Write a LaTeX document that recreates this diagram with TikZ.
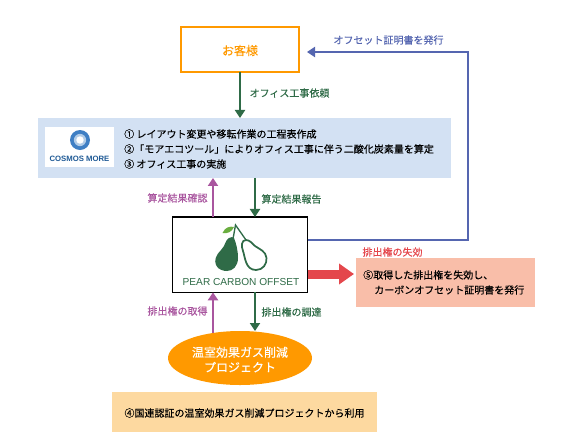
\documentclass[tikz,border=0pt]{standalone}
\usepackage{fontspec}
\setmainfont{Noto Sans CJK JP}[FakeBold=0.25]
\newfontfamily\logofont{Liberation Sans}
\usetikzlibrary{arrows.meta,positioning,shapes.geometric}
\definecolor{custorange}{HTML}{FF9900}
\definecolor{flowgreen}{HTML}{2F6B47}
\definecolor{flowpurple}{HTML}{A9569F}
\definecolor{flowblue}{HTML}{5566B0}
\definecolor{flowred}{HTML}{E4474C}
\definecolor{panelblue}{HTML}{D3E1F3}
\definecolor{panelsalmon}{HTML}{F9BEA9}
\definecolor{panelcream}{HTML}{FDD9A0}
\definecolor{logoblue}{HTML}{1F5A96}
\definecolor{ringblue}{HTML}{3F7FC4}
\definecolor{leafgreen}{HTML}{6AAE3F}
\tikzset{
  smalltext/.style={font=\fontsize{7.5}{11.25}\selectfont, inner sep=0pt},
  bigtext/.style={font=\fontsize{9}{11.25}\selectfont, inner sep=0pt, align=center},
  panel/.style={inner sep=0pt, outer sep=0pt},
  steplabel/.style={smalltext, text=flowgreen},
  checklabel/.style={smalltext, text=flowpurple},
  greenarrow/.style={-{Triangle[length=6pt,width=7.5pt]}, flowgreen, line width=1.5pt},
  purplearrow/.style={-{Triangle[length=6pt,width=7.5pt]}, flowpurple, line width=1.5pt},
  bluearrow/.style={-{Triangle[length=6pt,width=7.5pt]}, flowblue, line width=1.5pt},
  redarrow/.style={-{Triangle[length=11.25pt,width=15pt]}, flowred, line width=6.75pt}
}

\begin{document}
\begin{tikzpicture}[x=0.75pt,y=-0.75pt]
\useasboundingbox (0,0) rectangle (561,444);
\node[panel, draw=custorange, line width=1.5pt, minimum width=88.5pt, minimum height=34pt] (customer) at (240,49.5) {};
\node[bigtext, text=custorange] (customertext) at (240,50.5) {お客様};
\node[panel, fill=panelblue, minimum width=309.75pt, minimum height=45pt, below=34.35pt of customer, xshift=3.4pt] (works) {};
\node[panel, fill=white, minimum width=51.75pt, minimum height=30pt] (logobox) at (79.5,147) {};
\node[smalltext, anchor=west, align=left] (tasks) at (124,149) {① レイアウト変更や移転作業の工程表作成\\②「モアエコツール」によりオフィス工事に伴う二酸化炭素量を算定\\③ オフィス工事の実施};
\fill[ringblue] (80,140) circle[radius=7.5pt];
\fill[ringblue!40!white] (80,140) circle[radius=4.6pt];
\fill[white] (80,140) circle[radius=2.8pt];
\node[inner sep=0pt, text=logoblue, font=\logofont\bfseries\fontsize{5.8}{8}\selectfont] (cosmos) at (79.5,159) {COSMOS MORE};
\node[panel, draw=black, line width=0.9pt, fill=white, minimum width=101.25pt, minimum height=56.5pt, below=29.25pt of works, xshift=-3.4pt] (pear) {};
\fill[flowgreen] (229,238) .. controls (225,240) and (226,245) .. (221,250) .. controls (216,255) and (214,260) .. (216,265) .. controls (218,270) and (224,271) .. (227,271) .. controls (233,271) and (238,266) .. (238,258) .. controls (238,250) and (236,243) .. (234,238) .. controls (233,236.5) and (231,237) .. cycle;
\draw[flowgreen, line width=1.3pt] (246,240) .. controls (241.5,240) and (241,246) .. (243,251) .. controls (245,256) and (245,270) .. (256,270) .. controls (263,270) and (267,264) .. (266.5,258) .. controls (266,251) and (259,249) .. (255,246) .. controls (252,243.5) and (250,240) .. (246,240) -- cycle;
\draw[flowgreen, line width=1pt] (233,239) -- (235.5,225) -- (246,240);
\fill[leafgreen] (222.5,233) .. controls (225,227) and (230,226) .. (234,227) .. controls (232,232) and (227,234) .. cycle;
\node[inner sep=0pt, text=flowgreen, font=\logofont\fontsize{7.6}{10}\selectfont] (pearname) at (241,282) {PEAR CARBON OFFSET};
\node[panel, fill=panelsalmon, minimum width=134.25pt, minimum height=36.75pt, right=36pt of pear, yshift=-21.2pt] (retire) {};
\node[smalltext, anchor=north west, align=left] (retiretext) at (363,270) {⑤取得した排出権を失効し、\\\hspace*{8.25pt}カーボンオフセット証明書を発行};
\node[smalltext, text=flowred] (retirelabel) at (392.5,252) {排出権の失効};
\coordinate (up) at (213,0);
\coordinate (down) at (255,0);
\coordinate (bend) at (468,240);
\coordinate (issued) at (307,52);
\coordinate (retiretip) at (354,274);
\node[ellipse, panel, fill=custorange, minimum width=108pt, minimum height=40.5pt] (project) at (240,358) {};
\node[bigtext, text=white] (projecttext) at (240,359.5) {温室効果ガス削減\\プロジェクト};
\node[panel, fill=panelcream, minimum width=198.75pt, minimum height=30pt, below=5.25pt of project, xshift=3.4pt] (source) {};
\node[smalltext] (sourcetext) at (244.5,413) {④国連認証の温室効果ガス削減プロジェクトから利用};
\draw[greenarrow] (customer) -- (customer |- works.north);
\draw[greenarrow] (works.south -| down) -- (pear.north -| down);
\draw[purplearrow] (pear.north -| up) -- (works.south -| up);
\draw[greenarrow] (pear.south -| down) -- (project.north -| down);
\draw[purplearrow] (project.137 -| up) -- (pear.south -| up);
\draw[bluearrow] (pear.east |- bend) -- (bend) |- (issued);
\draw[redarrow] (pear.east |- retiretip) -- (retiretip);
\node[steplabel] (orderlabel) at (289.5,93) {オフィス工事依頼};
\node[steplabel] (reportlabel) at (291.5,199) {算定結果報告};
\node[checklabel] (checklabel) at (177.5,198) {算定結果確認};
\node[checklabel] (buylabel) at (177.5,311) {排出権の取得};
\node[steplabel] (procurelabel) at (291.5,312) {排出権の調達};
\node[smalltext, text=flowblue] (issuelabel) at (388.5,40) {オフセット証明書を発行};
\end{tikzpicture}
\end{document}
